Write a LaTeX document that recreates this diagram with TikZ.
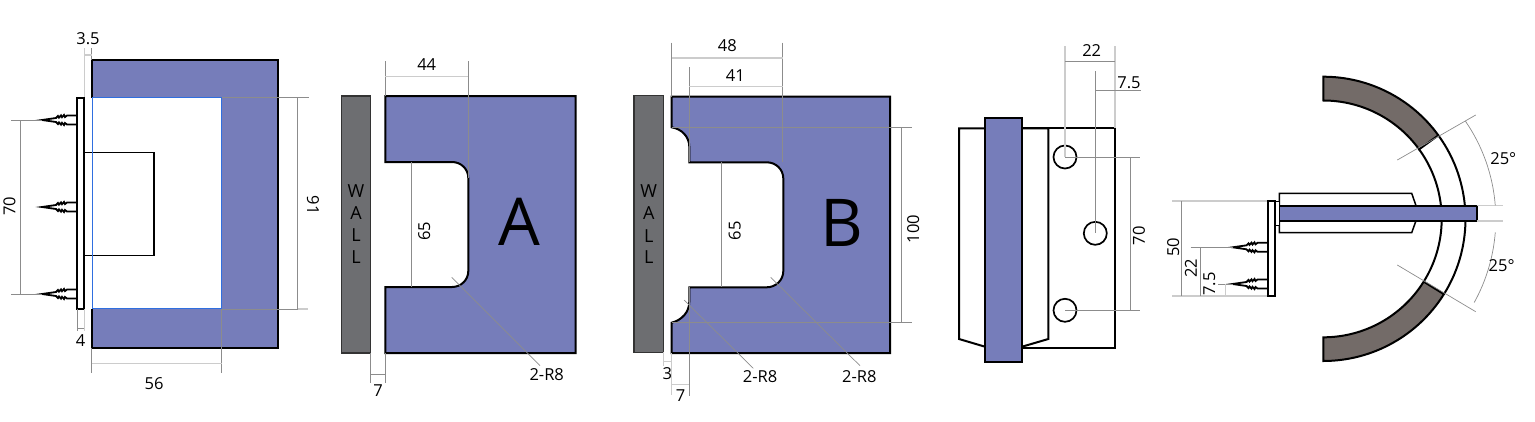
\documentclass[tikz,border=0pt]{standalone}
\usepackage{fontspec}
\setmainfont{Open Sans}
\definecolor{partblue}{HTML}{767DBA}
\definecolor{wallgray}{HTML}{6D6E71}
\definecolor{archgray}{HTML}{736B68}
\definecolor{dimgray}{HTML}{8C8C8C}
\definecolor{lightdim}{HTML}{CCCCCC}
\definecolor{edgeblue}{HTML}{2F6FE0}
\begin{document}
\begin{tikzpicture}
[
    x=1pt, y=-1pt,
    part/.style={draw=black, line width=2pt, line join=miter},
    blue part/.style={part, fill=partblue},
    wall/.style={draw=black!80, line width=1.5pt, fill=wallgray},
    dim/.style={draw=dimgray, line width=.7pt},
    dim light/.style={draw=lightdim, line width=1.1pt},
    num/.style={inner sep=0pt, font=\fontsize{16.5}{18}\selectfont},
    letter/.style={inner sep=0pt, font=\fontsize{18}{20}\selectfont},
    big letter/.style={inner sep=0pt, font=\fontsize{66}{70}\selectfont},
    screw/.pic={
        \draw[black, line width=1.8pt, line join=miter]
            (0,-4.5) -- (-10,-4.5) -- (-12,-3) -- (-13,-5) -- (-15,-2.8) -- (-16,-4.6)
            -- (-18,-2.4) -- (-19,-4) -- (-21,-2) -- (-35,0)
            -- (-21,2) -- (-19,4) -- (-18,2.4) -- (-16,4.6) -- (-15,2.8)
            -- (-13,5) -- (-12,3) -- (-10,4.5) -- (0,4.5);
    },
]
\useasboundingbox (0,0) rectangle (1535,421);

% first view
\fill[partblue] (91.5,60) rectangle (278,347.5);
\draw[part] (91.5,60) rectangle (278,347.5);
\fill[white] (90,97.5) rectangle (221.5,308.5);
\draw[part, fill=white, line width=1.5pt] (84.3,152.7) rectangle (154,255.7);
\draw[edgeblue, line width=.9pt] (92,97.5) rectangle (221.5,308.5);
\draw[part, fill=white] (77.4,97.5) rectangle (84.3,309);
\foreach \y in {120,207,294} {
    \pic at (77,\y) {screw};
}
\draw[dim light] (84.3,48) -- (84.3,97);
\draw[dim] (91.5,48) -- (91.5,60);
\draw[dim light] (84.3,55) -- (91.5,55);
\node[num] (num35) at (88,39) {3.5};
\draw[dim] (77.4,309) -- (77.4,331);
\draw[dim light] (84.3,309) -- (84.3,331);
\draw[dim] (77.4,328) -- (84.3,328);
\node[num] (num4) at (80.5,341) {4};
\draw[dim] (91.5,347.5) -- (91.5,373) (221.5,308.5) -- (221.5,373);
\draw[dim light] (91.5,363.3) -- (221.5,363.3);
\node[num] (num56) at (154,384) {56};
\draw[dim] (11,120) -- (42,120) (11,294) -- (42,294) (20.5,120) -- (20.5,294);
\node[num, rotate=90] (num70a) at (9.5,206) {70};
\draw[dim] (221.5,97.5) -- (309,97.5) (297.5,97.5) -- (297.5,309);
\draw[dim] (221.5,309) -- (297.5,309);
\draw[dim light] (297.5,309) -- (308,309);
\node[num, rotate=-90] (num91) at (313,205) {91};

% part A
\draw[wall] (341.3,96) rectangle (370.7,353);
\node[letter] (wa1) at (356,190.7) {W};
\node[letter] (wa2) at (356,212.7) {A};
\node[letter] (wa3) at (356,235) {L};
\node[letter] (wa4) at (356,256.7) {L};
\draw[blue part] (385.3,96) -- (575.7,96) -- (575.7,353) -- (385.3,353) -- (385.3,287) -- (452,287)
    .. controls (461,287) and (468.3,280) .. (468.3,271) -- (468.3,178)
    .. controls (468.3,169) and (461,162) .. (452,162) -- (385.3,162) -- cycle;
\draw[dim] (385.3,61) -- (385.3,96) (468.3,61) -- (468.3,178);
\draw[dim light] (385.3,76.7) -- (468.3,76.7);
\node[num] (num44) at (426.7,65) {44};
\draw[dim] (411.3,162) -- (411.3,287);
\node[num, rotate=90] (num65a) at (424.3,231) {65};
\draw[dim] (370.7,353) -- (370.7,382.7) (385.3,353) -- (385.3,382.7) (370.7,374) -- (385.3,374);
\node[num] (num7a) at (378,391) {7};
\draw[dim] (451.7,277.3) -- (540,365.7);
\node[num] (rA) at (546.7,375) {2-R8};
\node[big letter] (lblA) at (519.3,221.7) {A};

% part B
\draw[wall] (634,95.3) rectangle (663.3,352.3);
\node[letter] (wb1) at (648.7,190.7) {W};
\node[letter] (wb2) at (648.7,213) {A};
\node[letter] (wb3) at (648.7,236) {L};
\node[letter] (wb4) at (648.7,257.3) {L};
\draw[blue part] (671.7,96.7) -- (890,96.7) -- (890,353) -- (671.7,353) -- (671.7,322.7)
    .. controls (682,320) and (689.3,312) .. (689.3,301.7) -- (689.3,287.3) -- (766.7,287.3)
    .. controls (776,287.3) and (783.3,280) .. (783.3,271) -- (783.3,178.5)
    .. controls (783.3,169.5) and (776,162.3) .. (766.7,162.3) -- (689.3,162.3) -- (689.3,146.7)
    .. controls (689.3,137) and (682,129) .. (671.7,127.3) -- cycle;
\draw[dim] (671.7,42.7) -- (671.7,96.7) (782.8,42.7) -- (782.8,162.3);
\draw[dim light] (671.7,58) -- (782.8,58);
\node[num] (num48) at (727.3,46) {48};
\draw[dim] (689.3,67.3) -- (689.3,162.3);
\draw[dim light] (689.3,86.7) -- (782.8,86.7);
\node[num] (num41) at (735.3,76) {41};
\draw[dim] (721.7,162.3) -- (721.7,287.3);
\node[num, rotate=90] (num65b) at (734.7,230.7) {65};
\draw[dim] (671.7,127.3) -- (911.7,127.3) (671.7,322.7) -- (911.7,322.7) (901.7,127.3) -- (901.7,322.7);
\node[num, rotate=90] (num100) at (913.3,229) {100};
\draw[dim light] (663.3,352.3) -- (663.3,366) (663.3,361.7) -- (671.7,361.7);
\draw[dim light] (671.7,353) -- (671.7,395) (671.7,384.3) -- (689.3,384.3);
\draw[dim] (689.3,287.3) -- (689.3,396);
\node[num] (num3) at (667.3,373.3) {3};
\node[num] (num7b) at (680.7,396) {7};
\draw[dim] (684,300) -- (753.3,368.3);
\node[num] (rB1) at (760,376.7) {2-R8};
\draw[dim] (770.7,277.3) -- (860,365.7);
\node[num] (rB2) at (859.3,376.7) {2-R8};
\node[big letter] (lblB) at (841.7,222.7) {B};

% front view
\draw[part] (1022,128.3) -- (1115,128.3) -- (1115,347.7) -- (1022,347.7);
\draw[part] (985,128.3) -- (959,128.3) -- (959,339) -- (985,346.7);
\draw[part] (1022,128.3) -- (1048.3,128.3) -- (1048.3,339) -- (1022,346.7);
\draw[blue part] (985,117.7) rectangle (1022,362.3);
\foreach \hx/\hy in {1065/157,1095.3/233.3,1065/310.3} {
    \draw[black, line width=1.7pt] (\hx,\hy) circle[radius=11.5];
}
\draw[dim] (1065,157) -- (1140,157) (1065,310.3) -- (1140,310.3) (1130.3,157) -- (1130.3,310.3);
\node[num, rotate=90] (num70b) at (1139,235.7) {70};
\draw[dim light] (1065,46) -- (1065,157) (1115,46) -- (1115,128);
\draw[dim] (1065,61.7) -- (1115,61.7);
\node[num] (num22a) at (1091.7,50.7) {22};
\draw[dim] (1095.3,71) -- (1095.3,233.3) (1095.3,90.7) -- (1141,90.7);
\node[num] (num75a) at (1129,82.3) {7.5};

% top view
\draw[part, fill=archgray] (1323.3,76.7) arc[start angle=-90, end angle=-36, radius=142.2]
    -- ({1323.3+118.4*cos(36)},{218.9-118.4*sin(36)}) arc[start angle=-36, end angle=-90, radius=118.4] -- cycle;
\draw[part, fill=archgray] (1323.3,361) arc[start angle=90, end angle=32, radius=142.2]
    -- ({1323.3+118.4*cos(32)},{218.9+118.4*sin(32)}) arc[start angle=32, end angle=90, radius=118.4] -- cycle;
\draw[part] ({1323.3+142.2*cos(36)},{218.9-142.2*sin(36)}) arc[start angle=-36, end angle=32, radius=142.2];
\draw[part] ({1323.3+118.4*cos(36)},{218.9-118.4*sin(36)}) arc[start angle=-36, end angle=32, radius=118.4];
\draw[part, line width=1.5pt, fill=white] (1279.3,205.7) -- (1279.3,193.3) -- (1411.7,193.3) -- (1416,205.7)
    -- (1416,220.7) -- (1411.7,232.7) -- (1279.3,232.7) -- cycle;
\draw[blue part] (1279.3,205.7) rectangle (1476.7,220.7);
\draw[part, line width=1.5pt, fill=white] (1274,201.7) rectangle (1279.3,225.7);
\draw[part, fill=white] (1267.7,201) rectangle (1274.7,296);
\foreach \y in {247.3,284} {
    \pic at (1267.5,\y) {screw};
}
\draw[dim light] (1172,201) -- (1267,201) (1172,296) -- (1267,296);
\draw[dim] (1181.7,201) -- (1181.7,296);
\node[num, rotate=90] (num50) at (1173.3,247.3) {50};
\draw[dim] (1190.7,247.3) -- (1233,247.3) (1200.7,247.3) -- (1200.7,296);
\node[num, rotate=90] (num22b) at (1191,268.3) {22};
\draw[dim] (1218,284) -- (1233,284);
\draw[dim light] (1225.7,284) -- (1225.7,296);
\node[num, rotate=90] (num75b) at (1209.3,284) {7.5};
\draw[dim] (1397.3,160) -- (1475.7,115) (1397.3,265) -- (1475.7,311.7);
\draw[dim light] (1476.7,205.3) -- (1502.7,205.3) (1476.7,221) -- (1502.7,221);
\draw[dim] ({1323.3+172.5*cos(34.5)},{218.9-172.5*sin(34.5)}) arc[start angle=-34.5, end angle=-4.5, radius=172.5];
\draw[dim] ({1323.3+172.5*cos(4.5)},{218.9+172.5*sin(4.5)}) arc[start angle=4.5, end angle=29, radius=172.5];
\node[num] (deg1) at (1503.3,158.3) {25°};
\node[num] (deg2) at (1501.7,266) {25°};
\end{tikzpicture}
\end{document}
